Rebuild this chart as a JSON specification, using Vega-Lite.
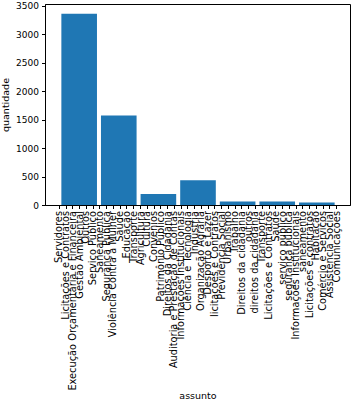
{
  "$schema": "https://vega.github.io/schema/vega-lite/v6.json",
  "autosize": "none",
  "width": 305,
  "height": 201,
  "padding": {"left": 45, "top": 4, "right": 6, "bottom": 196},
  "background": "white",
  "config": {
    "view": {"stroke": "black", "strokeWidth": 1},
    "font": "DejaVu Sans",
    "axis": {
      "labelFont": "DejaVu Sans",
      "titleFont": "DejaVu Sans",
      "labelFontSize": 9,
      "titleFontSize": 9.5,
      "titleFontWeight": "normal",
      "labelColor": "black",
      "titleColor": "black",
      "domainColor": "black",
      "tickColor": "black",
      "tickSize": 3.5,
      "grid": false
    }
  },
  "data": {
    "values": [
      {"bin_start": 0, "bin_end": 5.857, "quantidade": 3360},
      {"bin_start": 5.857, "bin_end": 11.714, "quantidade": 1570},
      {"bin_start": 11.714, "bin_end": 17.571, "quantidade": 195},
      {"bin_start": 17.571, "bin_end": 23.429, "quantidade": 435},
      {"bin_start": 23.429, "bin_end": 29.286, "quantidade": 60},
      {"bin_start": 29.286, "bin_end": 35.143, "quantidade": 60},
      {"bin_start": 35.143, "bin_end": 41, "quantidade": 42}
    ]
  },
  "mark": {"type": "bar", "color": "#1f77b4", "binSpacing": 4},
  "encoding": {
    "x": {
      "field": "bin_start",
      "type": "quantitative",
      "bin": "binned",
      "scale": {"domain": [-2.05, 43.05], "nice": false, "zero": false},
      "axis": {
        "title": "assunto",
        "titlePadding": 0,
        "labelFontSize": 9.8,
        "values": [0,1,2,3,4,5,6,7,8,9,10,11,12,13,14,15,16,17,18,19,20,21,22,23,24,25,26,27,28,29,30,31,32,33,34,35,36,37,38,39,40,41],
        "labelAngle": -90,
        "labelOverlap": false,
        "labelPadding": 2,
        "labelBound": false,
        "labelFlush": false,
        "labelExpr": "['Servidores','Licitações e Contratos','Execução Orçamentária e Financeira','Gestão Ambiental','Outros','Serviço Público','Saneamento','Segurança Pública','Violência Contra a Mulher','Saúde','Educação','Transporte','Agricultura','Cultura','Convênios','Patrimônio Público','Direitos da Cidadania','Auditoria e Prestação de Contas','Informações Institucionais','Ciência e Tecnologia','Indústria','Organização Agrária','Desporto e Lazer','licitações e Contratos','Previdência Social','Urbanismo','Trabalho','Direitos da cidadania','outros','direitos da cidadania','Transporte','Licitações e Contratos','Saúde','serviço público','segurança pública','Informações Institucionais','saneamento','Licitações e contratos','Habitação','Comércio e Serviços','Assistência Social','Comunicações'][datum.value]"
      }
    },
    "x2": {"field": "bin_end"},
    "y": {
      "field": "quantidade",
      "type": "quantitative",
      "scale": {"domain": [0, 3530], "nice": false},
      "axis": {
        "title": "quantidade",
        "format": "d",
        "values": [0, 500, 1000, 1500, 2000, 2500, 3000, 3500],
        "labelPadding": 3,
        "titlePadding": 5
      }
    }
  }
}
